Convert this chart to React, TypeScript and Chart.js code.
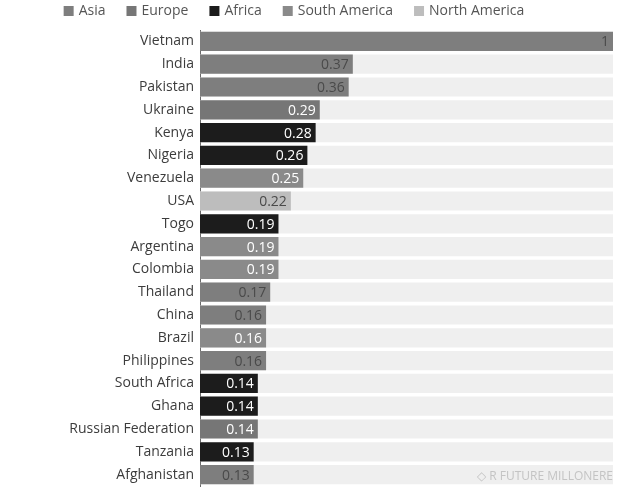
import React, { useEffect, useRef } from 'react';
import { Chart, registerables } from 'chart.js';

Chart.register(...registerables);

const countries = [
  'Vietnam', 'India', 'Pakistan', 'Ukraine', 'Kenya', 'Nigeria', 'Venezuela', 'USA', 'Togo',
  'Argentina', 'Colombia', 'Thailand', 'China', 'Brazil', 'Philippines', 'South Africa',
  'Ghana', 'Russian Federation', 'Tanzania', 'Afghanistan',
];
const values = [1, 0.37, 0.36, 0.29, 0.28, 0.26, 0.25, 0.22, 0.19, 0.19, 0.19, 0.17, 0.16, 0.16, 0.16, 0.14, 0.14, 0.14, 0.13, 0.13];
const regionOf = [
  'Asia', 'Asia', 'Asia', 'Europe', 'Africa', 'Africa', 'South America', 'North America', 'Africa',
  'South America', 'South America', 'Asia', 'Asia', 'South America', 'Asia', 'Africa',
  'Africa', 'Europe', 'Africa', 'Asia',
];
const regions = ['Asia', 'Europe', 'Africa', 'South America', 'North America'];
const regionColors: Record<string, string> = {
  Asia: '#7e7e7e',
  Europe: '#767676',
  Africa: '#1c1c1c',
  'South America': '#8a8a8a',
  'North America': '#bdbdbd',
};
const labelColors: Record<string, string> = {
  Asia: '#4a4a4a',
  Europe: '#ffffff',
  Africa: '#ffffff',
  'South America': '#ffffff',
  'North America': '#4a4a4a',
};
const trackValues = countries.map(() => 1);

const FONT = '"Open Sans", sans-serif';

// value labels inside the bar ends
const valueLabels = {
  id: 'valueLabels',
  afterDatasetsDraw(chart: any) {
    const { ctx } = chart;
    const meta = chart.getDatasetMeta(1);
    ctx.save();
    ctx.font = `14px ${FONT}`;
    ctx.textAlign = 'right';
    ctx.textBaseline = 'middle';
    meta.data.forEach((bar: any, i: number) => {
      ctx.fillStyle = labelColors[regionOf[i]];
      ctx.fillText(String(values[i]), bar.x - 4, bar.y + 1);
    });
    ctx.restore();
  },
};

// legend row + watermark
const topLegend = {
  id: 'topLegend',
  afterDraw(chart: any) {
    const { ctx } = chart;
    ctx.save();
    ctx.font = `14px ${FONT}`;
    ctx.textBaseline = 'middle';
    const box = 10;
    const gap = 5;
    const spacing = 21;
    const widths = regions.map((r) => ctx.measureText(r).width);
    const total = widths.reduce((a, w) => a + box + gap + w, 0) + spacing * (regions.length - 1);
    let x = 294 - total / 2;
    const y = 11;
    regions.forEach((r, i) => {
      ctx.fillStyle = regionColors[r];
      ctx.fillRect(x, y - box / 2, box, box);
      ctx.fillStyle = '#555';
      ctx.fillText(r, x + box + gap, y);
      x += box + gap + widths[i] + spacing;
    });
    ctx.font = `12px ${FONT}`;
    ctx.textAlign = 'right';
    ctx.fillStyle = '#c4c4c4';
    ctx.fillText('◇ R FUTURE MILLONERE', chart.chartArea.right, 477);
    ctx.restore();
  },
};

export default function App() {
  const chartRef = useRef<HTMLCanvasElement>(null);

  useEffect(() => {
    if (!chartRef.current) return;
    const chart = new Chart(chartRef.current, {
      type: 'bar',
      data: {
        labels: countries,
        datasets: [
          {
            label: 'track',
            data: trackValues,
            backgroundColor: '#efefef',
            order: 2,
          },
          {
            label: 'value',
            data: values,
            backgroundColor: regionOf.map((r) => regionColors[r]),
            order: 1,
          },
        ],
      },
      options: {
        indexAxis: 'y',
        animation: false,
        responsive: false,
        layout: { padding: { top: 30, right: 9, bottom: 7, left: 0 } },
        datasets: {
          bar: { grouped: false, barPercentage: 0.84, categoryPercentage: 1 },
        },
        plugins: {
          legend: { display: false },
          tooltip: { enabled: false },
        },
        scales: {
          x: { display: false, min: 0, max: 1 },
          y: {
            grid: { display: false, drawTicks: false },
            border: { display: true, color: '#6a6a6a', width: 1 },
            ticks: {
              color: '#3c3c3c',
              padding: 6,
              font: { family: FONT, size: 14 },
            },
            afterFit: (scale: any) => {
              scale.width = 200;
              scale.paddingTop = 0;
              scale.paddingBottom = 0;
            },
          },
        },
      },
      plugins: [valueLabels, topLegend],
    } as any);
    return () => chart.destroy();
  }, []);

  return (
    <div style={{ position: 'absolute', left: 0, top: 0, width: 622, height: 493, background: '#fff' }}>
      <canvas ref={chartRef} width={622} height={493} style={{ display: 'block' }}></canvas>
    </div>
  );
}
